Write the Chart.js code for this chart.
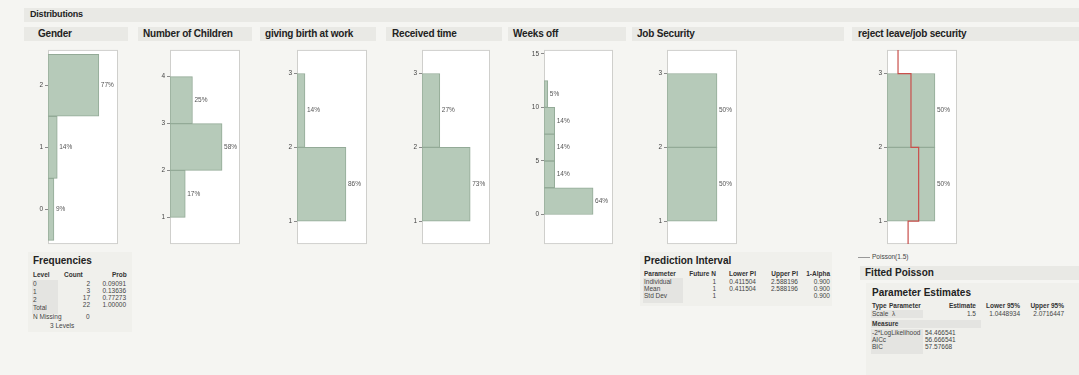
<!DOCTYPE html>
<html>
<head>
<meta charset="utf-8">
<script src="https://cdn.jsdelivr.net/npm/chart.js@4"></script>
<style>
  body { margin:0; width:1079px; height:375px; background:#f5f5f2; font-family:"Liberation Sans", Arial, sans-serif; color:#222; position:relative; overflow:hidden; }
  .band { position:absolute; background:#e9e9e5; height:14px; }
  .hd { position:absolute; font-size:10px; font-weight:bold; letter-spacing:-0.2px; white-space:nowrap; }
  canvas { position:absolute; }
  .tbl { position:absolute; font-size:6.5px; color:#444; white-space:nowrap; }
  .tbl .t { font-size:10px; font-weight:bold; color:#222; }
  .tbl .r { position:absolute; }
  .grey { background:#e4e4e1; }
</style>
</head>
<body>

<div class="band" style="left:24px;top:8px;width:1055px;"></div>
<div class="hd" style="left:30px;top:9px;font-size:9px;">Distributions</div>

<div class="band" style="left:24px;top:27px;width:104px;"></div>
<div class="hd" style="left:38px;top:28px;">Gender</div>
<div class="band" style="left:138px;top:27px;width:114px;"></div>
<div class="hd" style="left:143px;top:28px;">Number of Children</div>
<div class="band" style="left:260px;top:27px;width:116px;"></div>
<div class="hd" style="left:265px;top:28px;">giving birth at work</div>
<div class="band" style="left:386px;top:27px;width:116px;"></div>
<div class="hd" style="left:392px;top:28px;">Received time</div>
<div class="band" style="left:508px;top:27px;width:118px;"></div>
<div class="hd" style="left:513px;top:28px;">Weeks off</div>
<div class="band" style="left:632px;top:27px;width:212px;"></div>
<div class="hd" style="left:637px;top:28px;">Job Security</div>
<div class="band" style="left:852px;top:27px;width:227px;"></div>
<div class="hd" style="left:858px;top:28px;">reject leave/job security</div>

<canvas id="c0"></canvas>
<canvas id="c1"></canvas>
<canvas id="c2"></canvas>
<canvas id="c3"></canvas>
<canvas id="c4"></canvas>
<canvas id="c5"></canvas>
<canvas id="c6"></canvas>

<!-- Frequencies -->
<div class="tbl" style="left:28px;top:252px;width:104px;height:80px;background:#f0f0ec;">
  <div class="t r" style="left:5px;top:3px;">Frequencies</div>
  <div class="r" style="left:5px;top:19px;font-weight:bold;color:#333;">Level</div>
  <div class="r" style="left:36px;top:19px;font-weight:bold;color:#333;">Count</div>
  <div class="r" style="left:84px;top:19px;font-weight:bold;color:#333;">Prob</div>
  <div class="r grey" style="left:4px;top:28px;width:26px;height:34px;"></div>
  <div class="r" style="left:5px;top:28px;">0</div>
  <div class="r" style="left:5px;top:36px;">1</div>
  <div class="r" style="left:5px;top:44px;">2</div>
  <div class="r" style="left:5px;top:52px;">Total</div>
  <div class="r" style="left:40px;top:28px;width:22px;text-align:right;">2<br>3<br>17<br>22</div>
  <div class="r" style="left:66px;top:28px;width:32px;text-align:right;">0.09091<br>0.13636<br>0.77273<br>1.00000</div>
  <div class="r" style="left:5px;top:61px;">N Missing</div>
  <div class="r" style="left:58px;top:61px;">0</div>
  <div class="r" style="left:22px;top:70px;">3 Levels</div>
</div>

<!-- Prediction Interval -->
<div class="tbl" style="left:640px;top:252px;width:192px;height:54px;background:#f0f0ec;">
  <div class="t r" style="left:4px;top:3px;">Prediction Interval</div>
  <div class="r" style="left:4px;top:18px;font-weight:bold;color:#333;">Parameter</div>
  <div class="r" style="left:44px;top:18px;font-weight:bold;color:#333;width:32px;text-align:right;">Future N</div>
  <div class="r" style="left:80px;top:18px;font-weight:bold;color:#333;width:36px;text-align:right;">Lower PI</div>
  <div class="r" style="left:120px;top:18px;font-weight:bold;color:#333;width:38px;text-align:right;">Upper PI</div>
  <div class="r" style="left:160px;top:18px;font-weight:bold;color:#333;width:30px;text-align:right;">1-Alpha</div>
  <div class="r grey" style="left:3px;top:26px;width:40px;height:25px;"></div>
  <div class="r" style="left:4px;top:26px;">Individual<br>Mean<br>Std Dev</div>
  <div class="r" style="left:44px;top:26px;width:32px;text-align:right;">1<br>1<br>1</div>
  <div class="r" style="left:80px;top:26px;width:36px;text-align:right;">0.411504<br>0.411504<br>&nbsp;</div>
  <div class="r" style="left:120px;top:26px;width:38px;text-align:right;">2.588196<br>2.588196<br>&nbsp;</div>
  <div class="r" style="left:160px;top:26px;width:30px;text-align:right;">0.900<br>0.900<br>0.900</div>
</div>

<!-- Fitted Poisson -->
<div class="tbl" style="left:852px;top:250px;width:227px;height:125px;">
  <div class="r" style="left:6px;top:7px;width:12px;height:1px;background:#999;"></div>
  <div class="r" style="left:20px;top:3px;">Poisson(1.5)</div>
  <div class="r" style="left:8px;top:16px;width:219px;height:14px;background:#e9e9e5;"></div>
  <div class="t r" style="left:13px;top:17px;">Fitted Poisson</div>
  <div class="r" style="left:14px;top:33px;width:213px;height:92px;background:#f0f0ec;"></div>
  <div class="t r" style="left:20px;top:37px;">Parameter Estimates</div>
  <div class="r" style="left:20px;top:52px;font-weight:bold;color:#333;">Type</div>
  <div class="r" style="left:37px;top:52px;font-weight:bold;color:#333;">Parameter</div>
  <div class="r" style="left:88px;top:52px;font-weight:bold;color:#333;width:36px;text-align:right;">Estimate</div>
  <div class="r" style="left:128px;top:52px;font-weight:bold;color:#333;width:40px;text-align:right;">Lower 95%</div>
  <div class="r" style="left:172px;top:52px;font-weight:bold;color:#333;width:40px;text-align:right;">Upper 95%</div>
  <div class="r grey" style="left:19px;top:60px;width:52px;height:8px;"></div>
  <div class="r" style="left:20px;top:60px;">Scale</div>
  <div class="r" style="left:40px;top:60px;">λ</div>
  <div class="r" style="left:88px;top:60px;width:36px;text-align:right;">1.5</div>
  <div class="r" style="left:128px;top:60px;width:40px;text-align:right;">1.0448934</div>
  <div class="r" style="left:172px;top:60px;width:40px;text-align:right;">2.0716447</div>
  <div class="r grey" style="left:19px;top:70px;width:110px;height:8px;"></div>
  <div class="r" style="left:20px;top:70px;font-weight:bold;color:#333;">Measure</div>
  <div class="r grey" style="left:19px;top:79px;width:52px;height:25px;"></div>
  <div class="r" style="left:20px;top:79px;">-2*LogLikelihood<br>AICc<br>BIC</div>
  <div class="r" style="left:73px;top:79px;">54.466541<br>56.666541<br>57.57668</div>
</div>

<script>
// ---- データ ----
const genderTicks = [0, 1, 2];
const genderEdges = [-0.5, 0.5, 1.5, 2.5];
const genderPct = [9, 14, 77];

const childrenTicks = [1, 2, 3, 4];
const childrenEdges = [1, 2, 3, 4];
const childrenPct = [17, 58, 25];

const birthTicks = [1, 2, 3];
const birthEdges = [1, 2, 3];
const birthPct = [86, 14];

const receivedTicks = [1, 2, 3];
const receivedEdges = [1, 2, 3];
const receivedPct = [73, 27];

const weeksTicks = [0, 5, 10, 15];
const weeksEdges = [0, 2.5, 5, 7.5, 10, 12.5];
const weeksPct = [64, 14, 14, 14, 5];

const jobTicks = [1, 2, 3];
const jobEdges = [1, 2, 3];
const jobPct = [50, 50];

const rejectTicks = [1, 2, 3];
const rejectEdges = [1, 2, 3];
const rejectPct = [50, 50];
// fitted Poisson step line (x = count scale, y = level)
const poissonX = [11.5, 11.5, 25, 25, 33, 33, 22, 22];
const poissonY = [3.4, 3, 3, 2, 2, 1, 1, 0.6];

// ---- 共通 ----
const BAR = '#b6cab9';
const BAR_EDGE = '#93aa97';

// 白いプロット枠
const boxPlugin = {
    id: 'box',
    beforeDraw(chart) {
        const a = chart.chartArea, ctx = chart.ctx;
        ctx.save();
        ctx.fillStyle = '#ffffff';
        ctx.fillRect(a.left, a.top, a.right - a.left, a.bottom - a.top);
        ctx.strokeStyle = '#cfcfcc';
        ctx.lineWidth = 1;
        ctx.strokeRect(a.left + 0.5, a.top + 0.5, a.right - a.left - 1, a.bottom - a.top - 1);
        ctx.restore();
    }
};

// パーセント表示
const pctPlugin = {
    id: 'pct',
    afterDatasetsDraw(chart) {
        const ctx = chart.ctx;
        const meta = chart.getDatasetMeta(0);
        const ds = chart.data.datasets[0];
        ctx.save();
        ctx.font = '6.5px "Liberation Sans", Arial, sans-serif';
        ctx.fillStyle = '#555';
        ctx.textBaseline = 'middle';
        meta.data.forEach(function (bar, i) {
            ctx.fillText(ds.data[i].x + '%', bar.x + 2, bar.y);
        });
        ctx.restore();
    }
};

function makeChart(id, opt) {
    const canvas = document.getElementById(id);
    const axisW = 16;
    const rightPad = 24;
    const w = axisW + opt.boxW + rightPad;
    canvas.width = w;
    canvas.height = 206;
    canvas.style.left = (opt.boxLeft - axisW) + 'px';
    canvas.style.top = '44px';

    const bars = [];
    for (let i = 0; i < opt.pct.length; i++) {
        bars.push({ y: (opt.edges[i] + opt.edges[i + 1]) / 2, x: opt.pct[i] });
    }
    const datasets = [{
        type: 'bar',
        data: bars,
        backgroundColor: BAR,
        borderColor: BAR_EDGE,
        borderWidth: 1,
        borderSkipped: false,
        barPercentage: 1,
        categoryPercentage: 1,
        order: 1
    }];
    if (opt.lineX) {
        datasets.push({
            type: 'line',
            indexAxis: 'y',
            data: opt.lineX.map(function (v, i) { return { x: v, y: opt.lineY[i] }; }),
            borderColor: '#c9504c',
            borderWidth: 1.2,
            pointRadius: 0,
            fill: false,
            tension: 0,
            order: 0
        });
    }

    return new Chart(canvas.getContext('2d'), {
        type: 'bar',
        data: { datasets: datasets },
        options: {
            indexAxis: 'y',
            responsive: false,
            animation: false,
            devicePixelRatio: 1,
            layout: { padding: { top: 4, bottom: 5, left: 0, right: rightPad } },
            plugins: { legend: { display: false }, tooltip: { enabled: false } },
            scales: {
                x: { type: 'linear', display: false, min: 0, max: opt.xMax },
                y: {
                    type: 'linear',
                    offset: false,
                    min: opt.yMin,
                    max: opt.yMax,
                    afterBuildTicks: function (scale) {
                        scale.ticks = opt.ticks.map(function (v) { return { value: v }; });
                    },
                    afterFit: function (scale) { scale.width = axisW; },
                    border: { display: false },
                    grid: { offset: false, drawOnChartArea: false, drawTicks: true, tickLength: 3, color: '#8a8a8a' },
                    ticks: {
                        padding: 2,
                        color: '#444',
                        font: { size: 6.5, family: '"Liberation Sans", Arial, sans-serif' }
                    }
                }
            }
        },
        plugins: [boxPlugin, pctPlugin]
    });
}

makeChart('c0', { boxLeft: 48, boxW: 70, xMax: 106, yMin: -0.56, yMax: 2.57, ticks: genderTicks, edges: genderEdges, pct: genderPct });
makeChart('c1', { boxLeft: 170, boxW: 70, xMax: 78, yMin: 0.43, yMax: 4.57, ticks: childrenTicks, edges: childrenEdges, pct: childrenPct });
makeChart('c2', { boxLeft: 297, boxW: 70, xMax: 123, yMin: 0.69, yMax: 3.32, ticks: birthTicks, edges: birthEdges, pct: birthPct });
makeChart('c3', { boxLeft: 422, boxW: 68, xMax: 103, yMin: 0.69, yMax: 3.32, ticks: receivedTicks, edges: receivedEdges, pct: receivedPct });
makeChart('c4', { boxLeft: 544, boxW: 69, xMax: 90, yMin: -2.76, yMax: 15.37, ticks: weeksTicks, edges: weeksEdges, pct: weeksPct });
makeChart('c5', { boxLeft: 667, boxW: 70, xMax: 70, yMin: 0.69, yMax: 3.32, ticks: jobTicks, edges: jobEdges, pct: jobPct });
makeChart('c6', { boxLeft: 887, boxW: 70, xMax: 73, yMin: 0.69, yMax: 3.32, ticks: rejectTicks, edges: rejectEdges, pct: rejectPct, lineX: poissonX, lineY: poissonY });
</script>
</body>
</html>
